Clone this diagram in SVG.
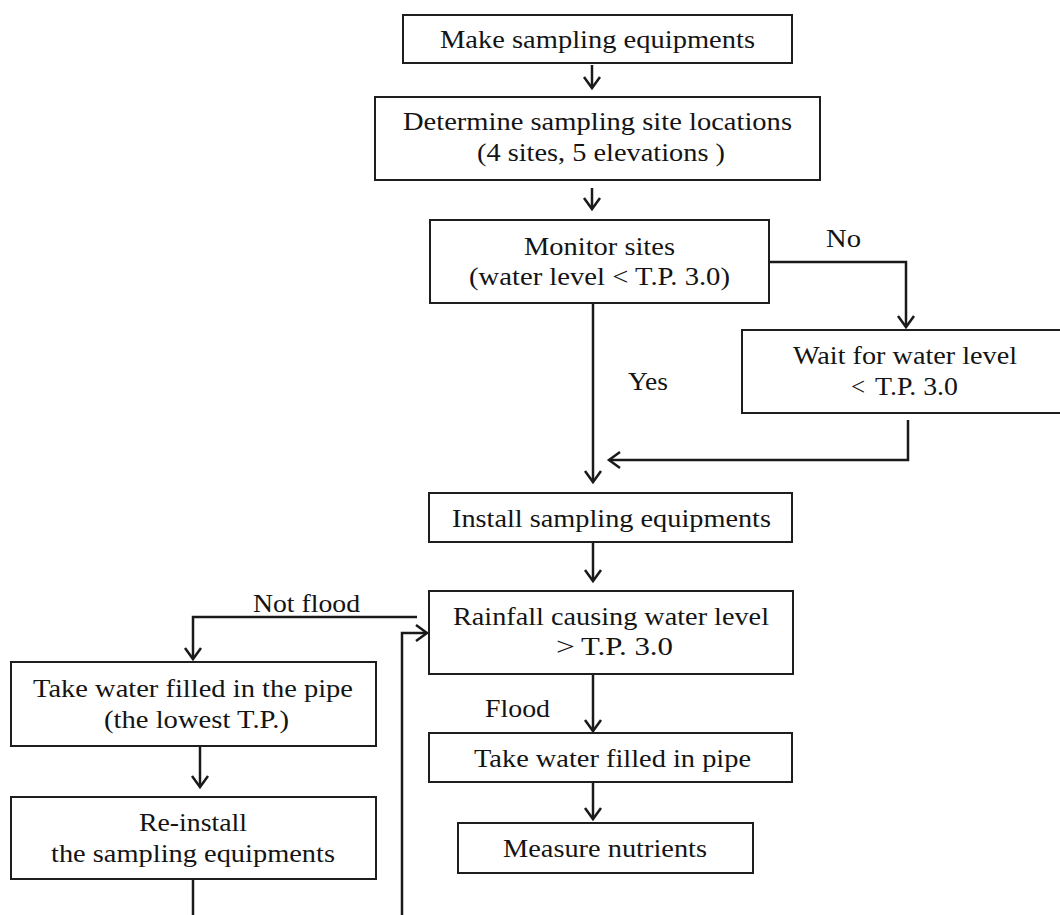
<svg xmlns="http://www.w3.org/2000/svg" width="1060" height="915" viewBox="0 0 1060 915">
<style>
  .box { fill: #ffffff; stroke: #1e1e1e; stroke-width: 2; }
  .t { font-family: "Liberation Serif", "Times New Roman", serif; font-size: 25px; fill: #141414; }
  .c { fill: none; stroke: #1a1a1a; stroke-width: 2.5; }
</style>
<defs>
  <marker id="arr" markerUnits="userSpaceOnUse" viewBox="-13 -10 15 20" refX="0" refY="0" markerWidth="15" markerHeight="20" orient="auto" overflow="visible">
    <path d="M-11,-8 L0,0 L-11,8" fill="none" stroke="#1a1a1a" stroke-width="2.5"/>
  </marker>
</defs>
<rect width="1060" height="915" fill="#ffffff"/>

<g id="connectors">
  <path class="c" d="M592,65 L592,88" marker-end="url(#arr)"/>
  <path class="c" d="M592,188 L592,209" marker-end="url(#arr)"/>
  <path class="c" d="M769,262 L906,262 L906,327" marker-end="url(#arr)"/>
  <path class="c" d="M593,303 L593,482" marker-end="url(#arr)"/>
  <path class="c" d="M908,420 L908,460 L609,460" marker-end="url(#arr)"/>
  <path class="c" d="M593,543 L593,581" marker-end="url(#arr)"/>
  <path class="c" d="M417,617 L193,617 L193,659" marker-end="url(#arr)"/>
  <path class="c" d="M593,668 L593,731" marker-end="url(#arr)"/>
  <path class="c" d="M593,782 L593,819" marker-end="url(#arr)"/>
  <path class="c" d="M200,746 L200,787" marker-end="url(#arr)"/>
  <path class="c" d="M193,879 L193,915"/>
  <path class="c" d="M402,915 L402,633 L427,633" marker-end="url(#arr)"/>
  <text class="t" x="826" y="247" textLength="35" lengthAdjust="spacingAndGlyphs">No</text>
  <text class="t" x="628" y="390" textLength="40" lengthAdjust="spacingAndGlyphs">Yes</text>
  <text class="t" x="253" y="612" textLength="107" lengthAdjust="spacingAndGlyphs">Not flood</text>
  <text class="t" x="485" y="717" textLength="65" lengthAdjust="spacingAndGlyphs">Flood</text>
</g>

<g id="make">
  <rect class="box" x="403" y="15" width="389" height="48"/>
  <text class="t" x="440" y="48" textLength="315" lengthAdjust="spacingAndGlyphs">Make sampling equipments</text>
</g>
<g id="determine">
  <rect class="box" x="375" y="97" width="445" height="83"/>
  <text class="t" x="403" y="130" textLength="389" lengthAdjust="spacingAndGlyphs">Determine sampling site locations</text>
  <text class="t" x="477" y="161" textLength="248" lengthAdjust="spacingAndGlyphs">(4 sites, 5 elevations )</text>
</g>
<g id="monitor">
  <rect class="box" x="430" y="220" width="339" height="83"/>
  <text class="t" x="524" y="255" textLength="151" lengthAdjust="spacingAndGlyphs">Monitor sites</text>
  <text class="t" x="469" y="285" textLength="261" lengthAdjust="spacingAndGlyphs">(water level &lt; T.P. 3.0)</text>
</g>
<g id="wait">
  <rect class="box" x="742" y="330" width="330" height="83"/>
  <text class="t" x="793" y="364" textLength="224" lengthAdjust="spacingAndGlyphs">Wait for water level</text>
  <text class="t" x="851" y="395">&lt;</text>
  <text class="t" x="875" y="395" textLength="83" lengthAdjust="spacingAndGlyphs">T.P. 3.0</text>
</g>
<g id="install">
  <rect class="box" x="429" y="493" width="363" height="49"/>
  <text class="t" x="452" y="527" textLength="319" lengthAdjust="spacingAndGlyphs">Install sampling equipments</text>
</g>
<g id="rainfall">
  <rect class="box" x="429" y="591" width="364" height="83"/>
  <text class="t" x="453" y="625" textLength="316" lengthAdjust="spacingAndGlyphs">Rainfall causing water level</text>
  <text class="t" x="556" y="655" textLength="19" lengthAdjust="spacingAndGlyphs">&gt;</text>
  <text class="t" x="581" y="655" textLength="92" lengthAdjust="spacingAndGlyphs">T.P. 3.0</text>
</g>
<g id="take-pipe">
  <rect class="box" x="429" y="733" width="363" height="49"/>
  <text class="t" x="474" y="767" textLength="277" lengthAdjust="spacingAndGlyphs">Take water filled in pipe</text>
</g>
<g id="measure">
  <rect class="box" x="458" y="823" width="295" height="50"/>
  <text class="t" x="503" y="857" textLength="204" lengthAdjust="spacingAndGlyphs">Measure nutrients</text>
</g>
<g id="take-lowest">
  <rect class="box" x="11" y="662" width="365" height="84"/>
  <text class="t" x="33" y="697" textLength="320" lengthAdjust="spacingAndGlyphs">Take water filled in the pipe</text>
  <text class="t" x="104" y="728" textLength="185" lengthAdjust="spacingAndGlyphs">(the lowest T.P.)</text>
</g>
<g id="reinstall">
  <rect class="box" x="11" y="797" width="365" height="82"/>
  <text class="t" x="139" y="831" textLength="108" lengthAdjust="spacingAndGlyphs">Re-install</text>
  <text class="t" x="51" y="862" textLength="284" lengthAdjust="spacingAndGlyphs">the sampling equipments</text>
</g>
</svg>
